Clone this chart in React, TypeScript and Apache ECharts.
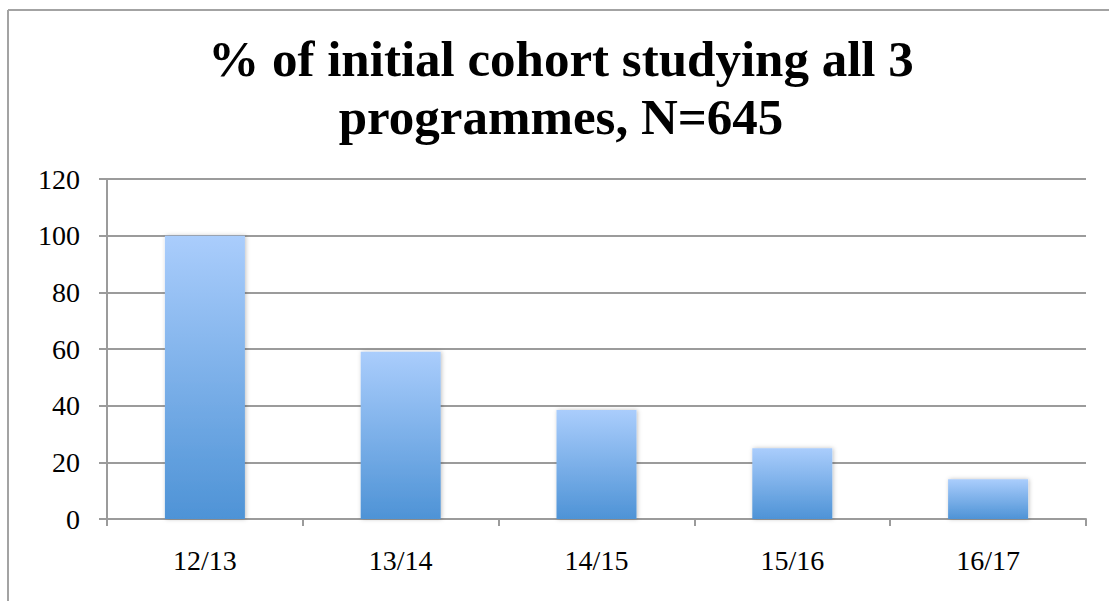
import React, { useEffect, useRef } from "react";
import * as echarts from "echarts";

const titleLines = ["% of initial cohort studying all 3", "programmes, N=645"];
const categories = ["12/13", "13/14", "14/15", "15/16", "16/17"];
const values = [100, 59, 38.5, 25, 14];
const yMin = 0;
const yMax = 120;
const yInterval = 20;

const FONT = "'Liberation Serif', 'Times New Roman', serif";
const GRID_GRAY = "#9b9b9b";

export default function App() {
  const ref = useRef<HTMLDivElement>(null);
  useEffect(() => {
    if (!ref.current) return;
    const chart = echarts.init(ref.current, null, { renderer: "svg" });
    chart.setOption({
      animation: false,
      backgroundColor: "#ffffff",
      graphic: [
        {
          type: "line",
          shape: { x1: 8, y1: 10, x2: 1109, y2: 10 },
          style: { stroke: "#a3a3a3", lineWidth: 2 },
        },
        {
          type: "line",
          shape: { x1: 8, y1: 10, x2: 8, y2: 601 },
          style: { stroke: "#a3a3a3", lineWidth: 2 },
        },
        {
          type: "text",
          x: 561,
          y: 30,
          style: {
            text: titleLines.join("\n"),
            align: "center",
            verticalAlign: "top",
            font: `bold 51px ${FONT}`,
            fontFamily: FONT,
            fontWeight: "bold",
            fontSize: 51,
            lineHeight: 58,
            fill: "#000000",
          },
        },
      ],
      grid: { left: 107, right: 23, top: 179, bottom: 82, containLabel: false },
      xAxis: {
        type: "category",
        data: categories,
        boundaryGap: true,
        axisLine: { show: true, lineStyle: { color: GRID_GRAY, width: 2 } },
        axisTick: { show: true, length: 7, alignWithLabel: false, lineStyle: { color: GRID_GRAY, width: 2 } },
        axisLabel: { fontFamily: FONT, fontSize: 28, color: "#000", margin: 27 },
        splitLine: { show: false },
      },
      yAxis: {
        type: "value",
        min: yMin,
        max: yMax,
        interval: yInterval,
        axisLine: { show: true, lineStyle: { color: GRID_GRAY, width: 2 } },
        axisTick: { show: true, length: 8, lineStyle: { color: GRID_GRAY, width: 2 } },
        axisLabel: { fontFamily: FONT, fontSize: 28, color: "#000", margin: 27 },
        splitLine: { show: true, lineStyle: { color: GRID_GRAY, width: 2 } },
      },
      series: [
        {
          type: "bar",
          data: values,
          barWidth: 80,
          itemStyle: {
            color: new echarts.graphic.LinearGradient(0, 0, 0, 1, [
              { offset: 0, color: "#aacdfc" },
              { offset: 1, color: "#4e93d6" },
            ]),
            shadowColor: "rgba(0,0,0,0.25)",
            shadowBlur: 4,
            shadowOffsetX: 1,
            shadowOffsetY: 0,
          },
        },
      ],
    });
    return () => chart.dispose();
  }, []);
  return (
    <div
      ref={ref}
      style={{ position: "absolute", left: 0, top: 0, width: 1109, height: 601 }}
    />
  );
}
